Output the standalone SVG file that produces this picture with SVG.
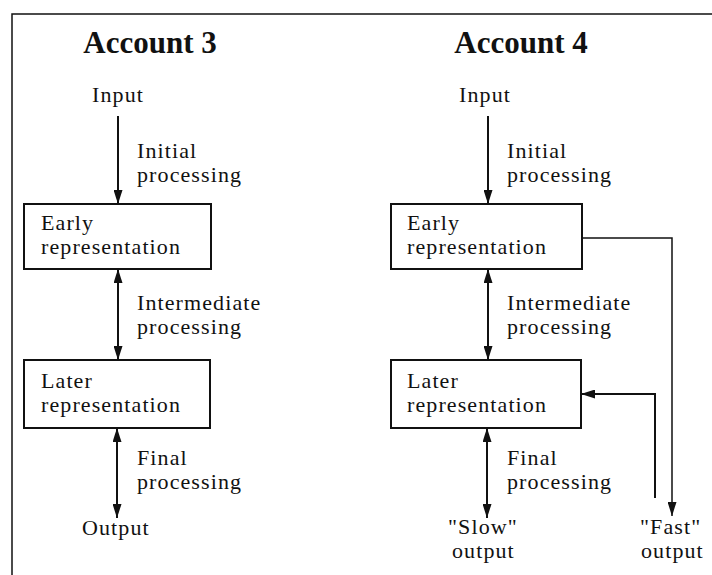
<svg xmlns="http://www.w3.org/2000/svg" width="712" height="575" viewBox="0 0 712 575">
  <style>
    text { font-family: "Liberation Serif", "Times New Roman", serif; font-size: 22px; letter-spacing: 1.1px; fill: #111; }
    .title { font-weight: bold; font-size: 31px; letter-spacing: 0; text-anchor: middle; }
    .box { fill: #fff; stroke: #111; stroke-width: 2; }
    .conn { fill: none; stroke: #111; stroke-width: 2; }
    .thin { fill: none; stroke: #111; stroke-width: 1.5; }
    .frame { fill: none; stroke: #111; stroke-width: 1.5; }
  </style>
  <defs>
    <marker id="ah" markerUnits="userSpaceOnUse" viewBox="0 0 14 9" refX="14" refY="4.5" markerWidth="14" markerHeight="9" orient="auto-start-reverse">
      <path d="M0,0 L14,4.5 L0,9 Z" fill="#111"/>
    </marker>
  </defs>
  <rect width="712" height="575" fill="#fff"/>
  <path class="frame" d="M12,575 L12,14 L712,14"/>

  <!-- Account 3 -->
  <g id="title3"><text class="title" x="150" y="53">Account 3</text></g>
  <g id="input3"><text x="92" y="102">Input</text></g>
  <g id="early3">
    <rect class="box" x="24" y="204" width="187" height="65"/>
    <text x="41" y="230">Early</text>
    <text x="41" y="254">representation</text>
  </g>
  <g id="later3">
    <rect class="box" x="24" y="360" width="186" height="68"/>
    <text x="41" y="388">Later</text>
    <text x="41" y="412">representation</text>
  </g>
  <g id="output3"><text x="82" y="535">Output</text></g>

  <!-- Account 4 -->
  <g id="title4"><text class="title" x="521" y="53">Account 4</text></g>
  <g id="input4"><text x="459" y="102">Input</text></g>
  <g id="early4">
    <rect class="box" x="391" y="204" width="191" height="65"/>
    <text x="407" y="230">Early</text>
    <text x="407" y="254">representation</text>
  </g>
  <g id="later4">
    <rect class="box" x="391" y="360" width="190" height="68"/>
    <text x="407" y="388">Later</text>
    <text x="407" y="412">representation</text>
  </g>
  <g id="slow4">
    <text x="448" y="534">"Slow"</text>
    <text x="452" y="558">output</text>
  </g>
  <g id="fast4">
    <text x="640" y="534">"Fast"</text>
    <text x="641" y="558">output</text>
  </g>

  <!-- connectors -->
  <g id="connectors">
    <line class="conn" x1="118" y1="116" x2="118" y2="204" marker-end="url(#ah)"/>
    <line class="conn" x1="118" y1="269" x2="118" y2="360" marker-start="url(#ah)" marker-end="url(#ah)"/>
    <line class="conn" x1="117" y1="428" x2="117" y2="518" marker-start="url(#ah)" marker-end="url(#ah)"/>

    <line class="conn" x1="488" y1="116" x2="488" y2="204" marker-end="url(#ah)"/>
    <line class="conn" x1="488" y1="269" x2="488" y2="360" marker-start="url(#ah)" marker-end="url(#ah)"/>
    <line class="conn" x1="487" y1="428" x2="487" y2="518" marker-start="url(#ah)" marker-end="url(#ah)"/>

    <path class="thin" d="M582,238 L672,238 L672,516" marker-end="url(#ah)"/>
    <path class="conn" d="M655,498 L655,394 L581,394" marker-end="url(#ah)"/>
  </g>

  <!-- connector labels -->
  <g id="labels">
    <text x="137" y="158">Initial</text>
    <text x="137" y="182">processing</text>
    <text x="137" y="310">Intermediate</text>
    <text x="137" y="334">processing</text>
    <text x="137" y="465">Final</text>
    <text x="137" y="489">processing</text>

    <text x="507" y="158">Initial</text>
    <text x="507" y="182">processing</text>
    <text x="507" y="310">Intermediate</text>
    <text x="507" y="334">processing</text>
    <text x="507" y="465">Final</text>
    <text x="507" y="489">processing</text>
  </g>
</svg>
